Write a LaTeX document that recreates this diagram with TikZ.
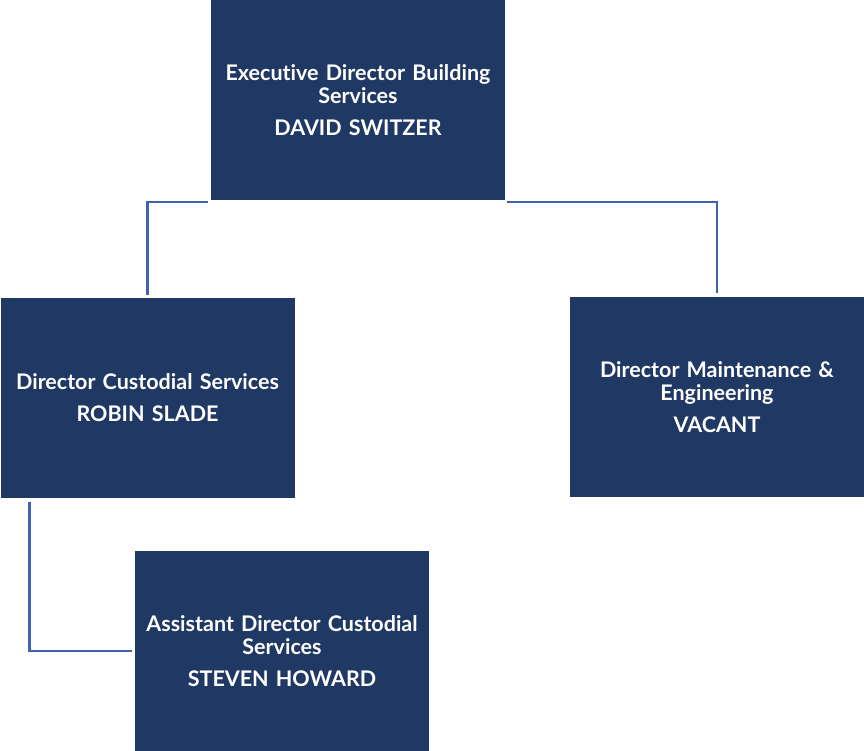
\documentclass[tikz,border=0pt]{standalone}
\usepackage{fontspec}
\setmainfont{Lato}[UprightFont={* Bold},BoldFont={* Black},Ligatures={NoCommon}]
\definecolor{boxblue}{HTML}{203864}
\definecolor{lineblue}{HTML}{3F63AC}
\begin{document}
\begin{tikzpicture}[x=1pt,y=-1pt,
  orgbox/.style={fill=boxblue,draw=none,minimum width=294pt,minimum height=200pt,
    text width=290pt,align=center,text=white,font=\fontsize{21.5}{23}\selectfont,inner sep=0pt},
  conn/.style={draw=lineblue,line width=2.6pt}]
\useasboundingbox (0,0) rectangle (864,751);
\node[orgbox] (top) at (358,100) {Executive Director Building\\Services\\[9pt]DAVID SWITZER};
\node[orgbox] (left) at (147.5,398) {Director Custodial Services\\[9pt]ROBIN SLADE};
\node[orgbox] (right) at (717,397) {Director Maintenance \&\\Engineering\\[9pt]VACANT};
\node[orgbox] (bottom) at (282,651) {Assistant Director Custodial\\Services\\[9pt]STEVEN HOWARD};
\draw[conn] ([xshift=-3pt,yshift=-2pt]top.south west) -| ([yshift=3pt]left.north);
\draw[conn] ([xshift=2pt,yshift=-2pt]top.south east) -| ([yshift=4pt]right.north);
\draw[conn] ([xshift=29pt,yshift=-4pt]left.south west) |- ([xshift=-3pt]bottom.west);
\end{tikzpicture}
\end{document}
